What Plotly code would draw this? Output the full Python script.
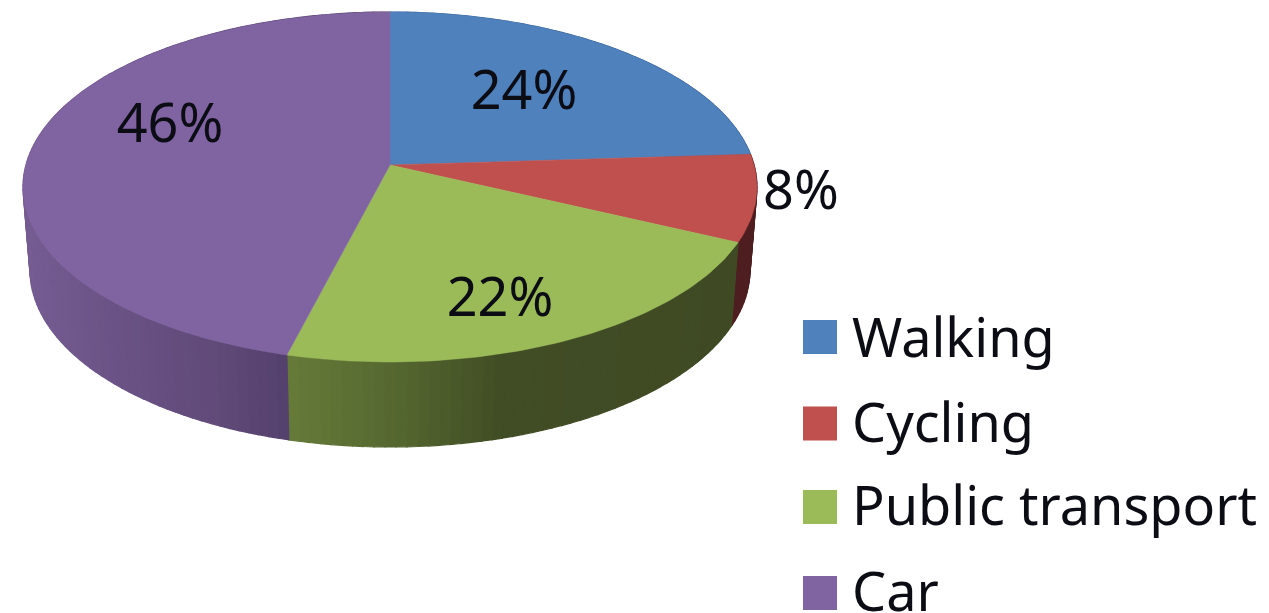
import math
import plotly.graph_objects as go

categories = ["Walking", "Cycling", "Public transport", "Car"]
values = [24, 8, 22, 46]
pct_labels = ["24%", "8%", "22%", "46%"]
top_colors = ["#4f81bd", "#c0504d", "#9bbb59", "#8064a2"]

# page-pixel geometry of the tilted disc
CX, CY, RX, RY = 390, 187, 367, 175
BCX, BCY, BRX, BRY = 390, 270, 360, 177
P = 0.126  # perspective shift of the pie centre
FONT = "Noto Sans"
TEXT_COLOR = "#0c0c14"
FS = 54

label_xy = [(524, 95), (801, 195), (500, 302), (170, 128)]
swatch_x = 820
swatch_y = [337, 423.5, 507, 593]
legend_text_x = 852
legend_text_y = [343, 428, 511, 597]

# wall shading stops: (page x, colour)
wall_stops = {
    "Walking": [(0, (79, 129, 189)), (1269, (40, 65, 95))],
    "Cycling": [(0, (78, 30, 32)), (1269, (78, 30, 32))],
    "Public transport": [(288, (102, 123, 57)), (400, (84, 102, 47)), (500, (65, 77, 37)), (740, (63, 74, 36))],
    "Car": [(20, (118, 93, 147)), (120, (106, 82, 133)), (220, (96, 74, 120)), (290, (84, 64, 108))],
}


def rim(theta, cx, cy, rx, ry):
    u, v = math.sin(theta), math.cos(theta)
    d = 1 + P * v
    return cx + rx * u * math.sqrt(1 - P * P) / d, cy - ry * (v + P) / d


def apex():
    return CX, CY - RY * P


def shade(stops, x):
    if x <= stops[0][0]:
        c = stops[0][1]
    elif x >= stops[-1][0]:
        c = stops[-1][1]
    else:
        for (x0, c0), (x1, c1) in zip(stops, stops[1:]):
            if x0 <= x <= x1:
                t = (x - x0) / (x1 - x0)
                c = tuple(a + (b - a) * t for a, b in zip(c0, c1))
                break
    return "rgb(%d,%d,%d)" % tuple(round(k) for k in c)


fig = go.Figure()
total = sum(values)
spans = []
acc = 0
for v in values:
    spans.append((acc / total * 2 * math.pi, (acc + v) / total * 2 * math.pi))
    acc += v

# outer walls, as narrow quads
for name, (a0, a1) in zip(categories, spans):
    n = max(4, int((a1 - a0) / (2 * math.pi) * 240))
    for i in range(n):
        t0 = a0 + (a1 - a0) * i / n
        t1 = a0 + (a1 - a0) * (i + 1) / n
        p = [rim(t0, CX, CY, RX, RY), rim(t1, CX, CY, RX, RY),
             rim(t1, BCX, BCY, BRX, BRY), rim(t0, BCX, BCY, BRX, BRY)]
        col = shade(wall_stops[name], sum(q[0] for q in p) / 4)
        fig.add_trace(go.Scatter(
            x=[q[0] for q in p] + [p[0][0]], y=[q[1] for q in p] + [p[0][1]],
            mode="lines", fill="toself", fillcolor=col,
            line=dict(color=col, width=1.2), hoverinfo="skip", showlegend=False))

# top faces
for name, col, (a0, a1) in zip(categories, top_colors, spans):
    n = max(8, int((a1 - a0) / (2 * math.pi) * 360))
    pts = [rim(a0 + (a1 - a0) * i / n, CX, CY, RX, RY) for i in range(n + 1)]
    ax, ay = apex()
    xs = [ax] + [q[0] for q in pts] + [ax]
    ys = [ay] + [q[1] for q in pts] + [ay]
    fig.add_trace(go.Scatter(x=xs, y=ys, mode="lines", fill="toself", fillcolor=col,
                             line=dict(color=col, width=0.5), name=name, showlegend=False))

# percentage labels
fig.add_trace(go.Scatter(
    x=[p[0] for p in label_xy], y=[p[1] for p in label_xy], text=pct_labels,
    mode="text", textposition="middle center",
    textfont=dict(family=FONT, size=FS, color=TEXT_COLOR), hoverinfo="skip", showlegend=False))

# legend
fig.add_trace(go.Scatter(
    x=[swatch_x] * 4, y=swatch_y, mode="markers",
    marker=dict(symbol="square", size=34, color=top_colors, line=dict(width=0)),
    hoverinfo="skip", showlegend=False, cliponaxis=False))
fig.add_trace(go.Scatter(
    x=[legend_text_x] * 4, y=legend_text_y, text=categories,
    mode="text", textposition="middle right",
    textfont=dict(family=FONT, size=FS, color=TEXT_COLOR), hoverinfo="skip",
    showlegend=False, cliponaxis=False))

fig.update_layout(
    width=1269, height=613, autosize=False,
    margin=dict(l=0, r=0, t=0, b=0),
    paper_bgcolor="white", plot_bgcolor="white", showlegend=False,
    xaxis=dict(range=[0, 1269], visible=False, fixedrange=True),
    yaxis=dict(range=[613, 0], visible=False, fixedrange=True),
)
fig.write_html("out.html", config={"displayModeBar": False},
               post_script="document.body.style.margin='0';document.body.style.overflow='hidden';")
